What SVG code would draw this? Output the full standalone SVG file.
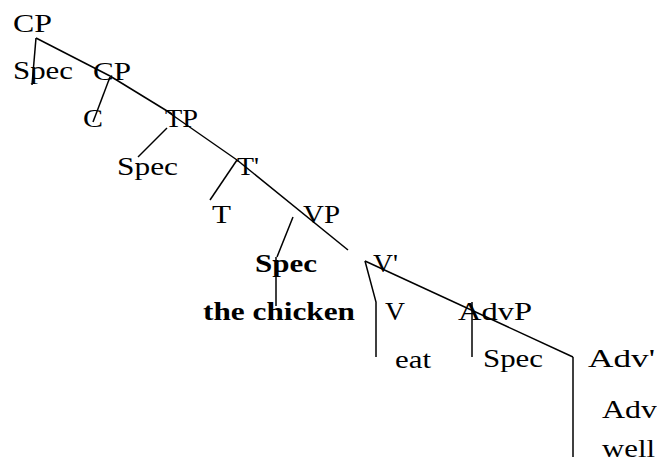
<svg xmlns="http://www.w3.org/2000/svg" width="657" height="467" viewBox="0 0 657 467">
<style>
text{font-family:"Liberation Serif","Times New Roman",serif;font-size:26px;fill:#000}
.b{font-weight:bold}
line,polyline{stroke:#000;stroke-width:1.5;fill:none}
</style>
<rect width="657" height="467" fill="#fff"/>
<g id="connectors">
<line x1="36" y1="38" x2="32" y2="85"/>
<line x1="36" y1="38" x2="110" y2="76"/>
<line x1="110" y1="77" x2="93" y2="122"/>
<line x1="110" y1="76" x2="172" y2="114"/>
<line x1="167" y1="128" x2="138" y2="157"/>
<line x1="168" y1="112" x2="237" y2="160"/>
<line x1="237" y1="160" x2="210" y2="200"/>
<line x1="237" y1="160" x2="348" y2="250"/>
<line x1="293" y1="217" x2="277" y2="257"/>
<line x1="276" y1="257" x2="276" y2="306"/>
<polyline points="365,261 376,302 376,357"/>
<line x1="365" y1="261" x2="573" y2="357"/>
<line x1="573" y1="357" x2="573" y2="457"/>
<line x1="472" y1="302" x2="472" y2="357"/>
</g>
<g id="n-cp"><text x="13" y="32" textLength="39" lengthAdjust="spacingAndGlyphs">CP</text></g>
<g id="n-spec1"><text x="13" y="79" textLength="60" lengthAdjust="spacingAndGlyphs">Spec</text></g>
<g id="n-cp2"><text x="93" y="80" textLength="38" lengthAdjust="spacingAndGlyphs">CP</text></g>
<g id="n-c"><text x="83" y="127" textLength="20" lengthAdjust="spacingAndGlyphs">C</text></g>
<g id="n-tp"><text x="165" y="127" textLength="33" lengthAdjust="spacingAndGlyphs">TP</text></g>
<g id="n-spec2"><text x="117" y="175" textLength="61" lengthAdjust="spacingAndGlyphs">Spec</text></g>
<g id="n-tbar"><text x="237" y="175" textLength="22" lengthAdjust="spacingAndGlyphs">T'</text></g>
<g id="n-t"><text x="212" y="223" textLength="19" lengthAdjust="spacingAndGlyphs">T</text></g>
<g id="n-vp"><text x="303" y="223" textLength="37" lengthAdjust="spacingAndGlyphs">VP</text></g>
<g id="n-spec3"><text class="b" x="255" y="272" textLength="62" lengthAdjust="spacingAndGlyphs">Spec</text></g>
<g id="n-vbar"><text x="373" y="272" textLength="25" lengthAdjust="spacingAndGlyphs">V'</text></g>
<g id="n-chicken"><text class="b" x="203" y="320" textLength="152" lengthAdjust="spacingAndGlyphs">the chicken</text></g>
<g id="n-v"><text x="385" y="320" textLength="20" lengthAdjust="spacingAndGlyphs">V</text></g>
<g id="n-advp"><text x="458" y="320" textLength="74" lengthAdjust="spacingAndGlyphs">AdvP</text></g>
<g id="n-eat"><text x="395" y="368" textLength="36" lengthAdjust="spacingAndGlyphs">eat</text></g>
<g id="n-spec4"><text x="483" y="367" textLength="60" lengthAdjust="spacingAndGlyphs">Spec</text></g>
<g id="n-advbar"><text x="588" y="367" textLength="67" lengthAdjust="spacingAndGlyphs">Adv'</text></g>
<g id="n-adv"><text x="602" y="418" textLength="55" lengthAdjust="spacingAndGlyphs">Adv</text></g>
<g id="n-well"><text x="602" y="457" textLength="53" lengthAdjust="spacingAndGlyphs">well</text></g>
</svg>
